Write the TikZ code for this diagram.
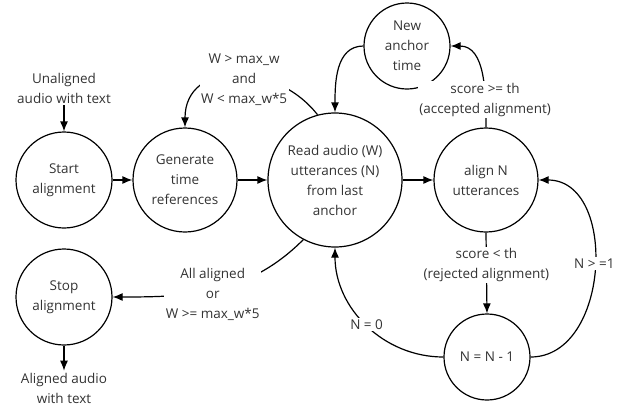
\documentclass[tikz,border=0pt]{standalone}
\usepackage{fontspec}
\setmainfont{Open Sans}
\usetikzlibrary{arrows.meta, positioning}

\tikzset{
  state/.style={circle, draw, line width=1.2pt, inner sep=0pt, align=center,
    text=black!80, font=\fontsize{13.5}{20}\selectfont},
  lbl/.style={fill=white, align=center, inner sep=1.5pt, text=black!80,
    font=\fontsize{13.5}{20}\selectfont},
}

\begin{document}
\begin{tikzpicture}[x=1pt, y=1pt, line width=1.2pt, >={Latex[length=10pt,width=8pt]}]
  \useasboundingbox (0,0) rectangle (630,-405);

  \node[state, minimum size=96pt] (start) at (64,-180) {Start\\alignment};
  \node[state, minimum size=104pt] (gen) at (185,-180) {Generate\\time\\references};
  \node[state, minimum size=134pt] (read) at (335,-180) {Read audio (W)\\utterances (N)\\from last\\anchor};
  \node[state, minimum size=104pt] (align) at (486,-180) {align N\\utterances};
  \node[state, minimum size=86pt] (anchor) at (407,-46) {New\\anchor\\time};
  \node[state, minimum size=86pt] (dec) at (487,-357) {N = N - 1};
  \node[state, minimum size=96pt] (stop) at (64,-297) {Stop\\alignment};
  \node[lbl] (input) at (64,-88) {Unaligned\\audio with text};
  \node[lbl] (output) at (64,-388) {Aligned audio\\with text};

  \draw[->] (input) -- (start);
  \draw[->] (start) -- (gen);
  \draw[->] (gen) -- (read);
  \draw[->] (read) -- (align);
  \draw[->] (read.105) to[out=128, in=90, looseness=1.3] node[lbl, pos=0.45, yshift=-4pt] {W > max\_w\\and\\W < max\_w*5} (gen.north);
  \draw[->] (anchor.west) to[out=180, in=90] (read.north);
  \draw[->] (align.north) to[out=90, in=0] node[lbl, pos=0.28, yshift=-3pt] {score >= th\\(accepted alignment)} (anchor.east);
  \draw[->] (align.south) -- node[lbl, pos=0.4] {score < th\\(rejected alignment)} (dec.north);
  \draw[->] (dec.west) to[out=180, in=270] node[lbl] {N = 0} (read.south);
  \draw[->] (dec.east) to[out=0, in=0, looseness=1.15] node[lbl, yshift=5pt] {N > =1} (align.east);
  \draw[->] (read.242) to[out=225, in=0] node[lbl, pos=0.52, yshift=-5pt] {All aligned\\or\\W >= max\_w*5} (stop.east);
  \draw[->] (stop) -- (output);
\end{tikzpicture}
\end{document}
